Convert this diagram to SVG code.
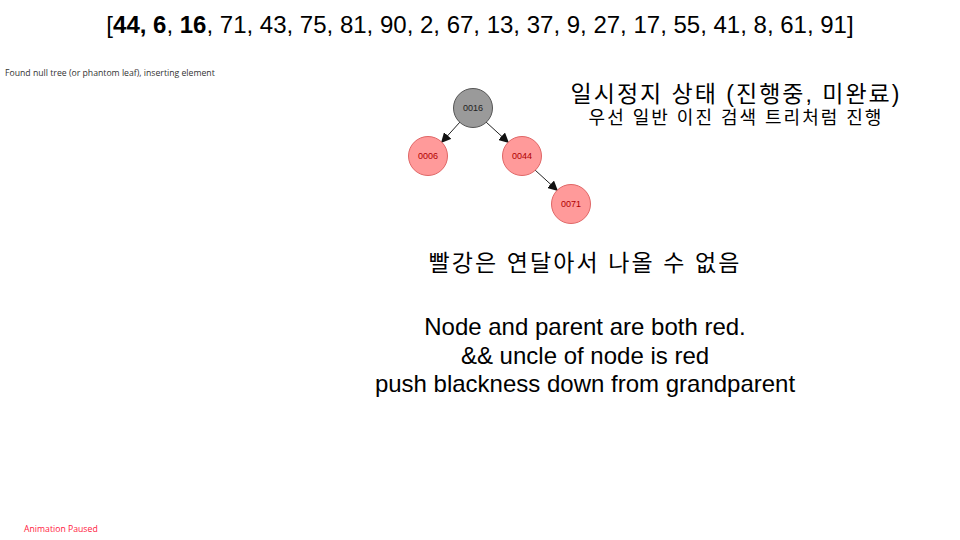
<svg xmlns="http://www.w3.org/2000/svg" width="960" height="540" viewBox="0 0 960 540">
<style>
.n circle{stroke-width:1}
.blk circle{fill:#9a9a9a;stroke:#555}
.red circle{fill:#ff9a9a;stroke:#e06666}
.n text{font-family:"Liberation Sans",Arial,sans-serif;font-size:9px;text-anchor:middle}
.blk text{fill:#222}
.red text{fill:#b00000}
.edge{stroke:#222;stroke-width:1;fill:none}
.big{font-family:"Liberation Sans","Noto Sans CJK KR",sans-serif;fill:#000;text-anchor:middle}
</style>
<defs>
<marker id="arr" viewBox="0 0 10 10" refX="10" refY="5" markerWidth="10" markerHeight="10" markerUnits="userSpaceOnUse" orient="auto">
<path d="M0,0 L10,5 L0,10 z" fill="#111"/>
</marker>
</defs>
<rect width="960" height="540" fill="#fff"/>
<text class="big" x="480" y="33" font-size="24">[<tspan font-weight="bold">44, 6</tspan>, <tspan font-weight="bold">16</tspan>, 71, 43, 75, 81, 90, 2, 67, 13, 37, 9, 27, 17, 55, 41, 8, 61, 91]</text>
<text x="5" y="76" font-family="'Open Sans','Liberation Sans',sans-serif" font-size="8.7" fill="#333">Found null tree (or phantom leaf), inserting element</text>
<text x="24" y="532" font-family="'Open Sans','Liberation Sans',sans-serif" font-size="8.7" fill="#ff2040">Animation Paused</text>
<g id="edges">
<line class="edge" x1="460" y1="122" x2="441" y2="143" marker-end="url(#arr)"/>
<line class="edge" x1="486" y1="122" x2="509" y2="143" marker-end="url(#arr)"/>
<line class="edge" x1="535" y1="170" x2="558" y2="191" marker-end="url(#arr)"/>
</g>
<g id="n16" class="n blk"><circle cx="473" cy="108" r="19.5"/><text x="473" y="111">0016</text></g>
<g id="n6" class="n red"><circle cx="428" cy="156" r="19.5"/><text x="428" y="159">0006</text></g>
<g id="n44" class="n red"><circle cx="522" cy="156" r="19.5"/><text x="522" y="159">0044</text></g>
<g id="n71" class="n red"><circle cx="571" cy="204" r="19.5"/><text x="571" y="207">0071</text></g>
<text class="big" x="736" y="102" font-size="23" letter-spacing="2" fill="#222">일시정지 상태 (진행중, 미완료)</text>
<text class="big" x="736" y="124" font-size="18" letter-spacing="2" fill="#222">우선 일반 이진 검색 트리처럼 진행</text>
<text class="big" x="585" y="271" font-size="23" letter-spacing="2.1">빨강은 연달아서 나올 수 없음</text>
<text class="big" x="585" y="335" font-size="24">Node and parent are both red.</text>
<text class="big" x="585" y="364" font-size="24">&amp;&amp; uncle of node is red</text>
<text class="big" x="585" y="392" font-size="24">push blackness down from grandparent</text>
</svg>
